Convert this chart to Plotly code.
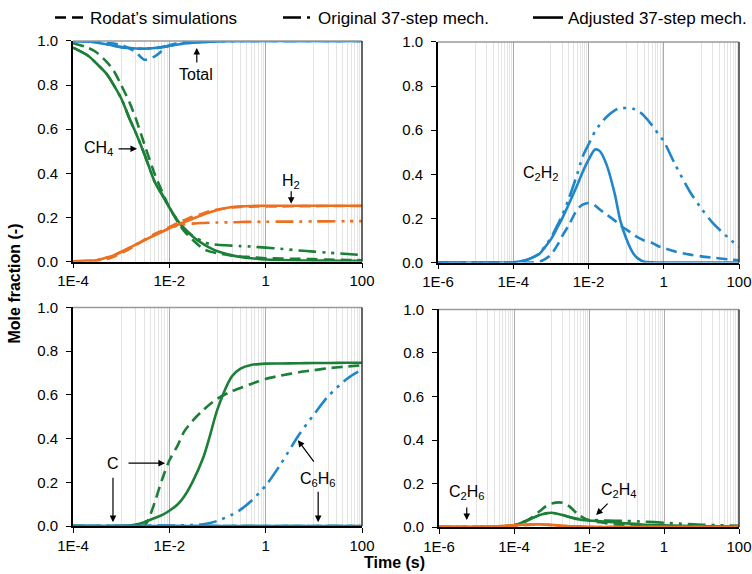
import math
import plotly.graph_objects as go

BLUE = "#1f86c9"
GREEN = "#1c7f38"
ORANGE = "#ec7021"
FONT = "Liberation Sans, Arial, sans-serif"

# ---------------- panel (a): CH4, H2 and total, t = 1E-4 .. 100 s
t_a = [1e-4, 2e-4, 3e-4, 5e-4, 7e-4, 1e-3, 1.5e-3, 2e-3, 3e-3, 5e-3, 7e-3, 1e-2,
       1.5e-2, 2e-2, 3e-2, 5e-2, 7e-2, 0.1, 0.2, 0.3, 0.5, 1, 2, 5, 10, 20, 50, 100]

ch4_rodat = [0.99, 0.97, 0.95, 0.905, 0.865, 0.80, 0.72, 0.65, 0.535, 0.395, 0.32, 0.245,
             0.18, 0.14, 0.10, 0.058, 0.045, 0.038, 0.027, 0.023, 0.02, 0.015, 0.014, 0.012,
             0.011, 0.009, 0.007, 0.006]
ch4_orig = [0.97, 0.935, 0.90, 0.85, 0.80, 0.74, 0.646, 0.585, 0.49, 0.36, 0.305, 0.245,
            0.185, 0.152, 0.118, 0.09, 0.08, 0.076, 0.072, 0.07, 0.068, 0.063, 0.058, 0.05,
            0.045, 0.04, 0.034, 0.029]
ch4_adj = [0.97, 0.935, 0.90, 0.85, 0.80, 0.74, 0.646, 0.585, 0.49, 0.36, 0.305, 0.245,
           0.185, 0.152, 0.115, 0.08, 0.062, 0.047, 0.028, 0.021, 0.015, 0.009, 0.007, 0.005,
           0.004, 0.004, 0.003, 0.003]

h2_rodat = [0.0, 0.002, 0.004, 0.012, 0.022, 0.038, 0.058, 0.074, 0.098, 0.125, 0.14, 0.156,
            0.175, 0.187, 0.203, 0.218, 0.229, 0.236, 0.245, 0.248, 0.249, 0.25, 0.25, 0.251,
            0.251, 0.252, 0.252, 0.252]
h2_orig = [0.001, 0.003, 0.005, 0.018, 0.028, 0.044, 0.063, 0.077, 0.096, 0.12, 0.135, 0.15,
           0.163, 0.168, 0.172, 0.175, 0.176, 0.177, 0.178, 0.179, 0.18, 0.18, 0.181, 0.181,
           0.182, 0.182, 0.183, 0.183]
h2_adj = [0.001, 0.003, 0.005, 0.018, 0.028, 0.044, 0.063, 0.077, 0.096, 0.12, 0.135, 0.151,
          0.167, 0.178, 0.193, 0.212, 0.223, 0.234, 0.247, 0.25, 0.252, 0.253, 0.253, 0.253,
          0.253, 0.253, 0.253, 0.253]

total_rodat = [1.0, 0.999, 0.997, 0.992, 0.988, 0.982, 0.965, 0.95, 0.915, 0.93, 0.955, 0.98,
               0.99, 0.995, 0.998, 1.0, 1.0, 1.0, 1.0, 1.0, 1.0, 1.0, 1.0, 1.0, 1.0, 1.0, 1.0, 1.0]
total_orig = [1.0, 0.998, 0.993, 0.985, 0.978, 0.972, 0.968, 0.966, 0.965, 0.968, 0.972, 0.978,
              0.984, 0.988, 0.992, 0.995, 0.997, 0.998, 0.999, 1.0, 1.0, 1.0, 1.0, 1.0, 1.0,
              1.0, 1.0, 1.0]
total_adj = [1.0, 0.998, 0.993, 0.985, 0.978, 0.972, 0.968, 0.966, 0.965, 0.968, 0.972, 0.978,
             0.984, 0.988, 0.992, 0.995, 0.997, 0.998, 0.999, 1.0, 1.0, 1.0, 1.0, 1.0, 1.0,
             1.0, 1.0, 1.0]

# ---------------- panel (b): C2H2, t = 1E-6 .. 100 s
t_b = [1e-6, 1e-5, 5e-5, 1e-4, 2e-4, 3e-4, 5e-4, 7e-4, 1e-3, 1.5e-3, 2e-3, 3e-3, 5e-3, 7e-3,
       1e-2, 1.5e-2, 2e-2, 3e-2, 5e-2, 7e-2, 0.1, 0.15, 0.2, 0.3, 0.5, 0.7, 1, 2, 5, 10, 20,
       50, 100]
c2h2_rodat = [0, 0, 0, 0, 0, 0, 0.004, 0.015, 0.035, 0.08, 0.12, 0.17, 0.24, 0.262, 0.27,
              0.258, 0.24, 0.218, 0.19, 0.168, 0.15, 0.13, 0.115, 0.1, 0.088, 0.075, 0.066,
              0.05, 0.036, 0.028, 0.022, 0.015, 0.01]
c2h2_orig = [0, 0, 0, 0.001, 0.009, 0.02, 0.042, 0.075, 0.112, 0.17, 0.215, 0.29, 0.40, 0.48,
             0.535, 0.595, 0.625, 0.66, 0.69, 0.70, 0.70, 0.697, 0.69, 0.665, 0.62, 0.585,
             0.55, 0.445, 0.32, 0.245, 0.18, 0.115, 0.07]
c2h2_adj = [0, 0, 0, 0.001, 0.009, 0.02, 0.04, 0.07, 0.105, 0.16, 0.2, 0.265, 0.35, 0.41,
            0.465, 0.512, 0.505, 0.445, 0.31, 0.19, 0.11, 0.045, 0.02, 0.004, 0.001, 0, 0, 0,
            0, 0, 0, 0, 0]

# ---------------- panel (c): C and C6H6, t = 1E-4 .. 100 s
t_c_rodat = [1e-4, 1e-3, 3e-3, 3.5e-3, 4e-3, 5e-3, 7e-3, 1e-2, 1.5e-2, 2e-2, 3e-2, 5e-2, 0.1,
             0.2, 0.5, 1, 2, 5, 10, 20, 50, 100]
c_rodat = [0, 0, 0.003, 0.02, 0.05, 0.11, 0.21, 0.3, 0.37, 0.43, 0.48, 0.53, 0.583, 0.617,
           0.65, 0.673, 0.688, 0.704, 0.713, 0.722, 0.73, 0.736]
c_orig = [0.0] * len(t_a)
c_adj = [0, 0, 0, 0, 0, 0.001, 0.003, 0.007, 0.018, 0.037, 0.05, 0.07, 0.1, 0.133, 0.2, 0.31,
         0.415, 0.535, 0.685, 0.72, 0.737, 0.743, 0.744, 0.745, 0.746, 0.746, 0.747, 0.747]
c6h6_rodat = [0.0] * len(t_a)
c6h6_orig = [0, 0, 0, 0, 0, 0, 0, 0, 0.001, 0.001, 0.002, 0.002, 0.003, 0.004, 0.005, 0.008,
             0.014, 0.024, 0.052, 0.075, 0.115, 0.185, 0.28, 0.42, 0.51, 0.595, 0.675, 0.716]
c6h6_adj = [0.0] * len(t_a)

# ---------------- panel (d): C2H4 and C2H6, t = 1E-6 .. 100 s
t_d = [1e-6, 1e-5, 3e-5, 1e-4, 2e-4, 3e-4, 5e-4, 7e-4, 1e-3, 2e-3, 3e-3, 5e-3, 1e-2, 2e-2,
       5e-2, 0.1, 0.3, 1, 3, 10, 100]
c2h4_rodat = [0, 0, 0.001, 0.008, 0.025, 0.045, 0.075, 0.095, 0.108, 0.112, 0.095, 0.06, 0.03,
              0.022, 0.012, 0.007, 0.004, 0.003, 0.002, 0.002, 0.001]
c2h4_orig = [0, 0, 0.001, 0.008, 0.027, 0.04, 0.056, 0.063, 0.066, 0.055, 0.046, 0.038, 0.034,
             0.031, 0.029, 0.028, 0.025, 0.02, 0.015, 0.011, 0.006]
c2h4_adj = [0, 0, 0.001, 0.008, 0.027, 0.04, 0.056, 0.063, 0.066, 0.055, 0.046, 0.036, 0.03,
            0.027, 0.021, 0.017, 0.011, 0.008, 0.006, 0.004, 0.003]
c2h6_rodat = [0, 0.001, 0.002, 0.006, 0.009, 0.011, 0.012, 0.011, 0.009, 0.005, 0.003, 0.002,
              0.001, 0, 0, 0, 0, 0, 0, 0, 0]
c2h6_orig = [0, 0.001, 0.003, 0.008, 0.011, 0.013, 0.013, 0.012, 0.01, 0.006, 0.004, 0.002,
             0.001, 0, 0, 0, 0, 0, 0, 0, 0]
c2h6_adj = [0, 0.001, 0.003, 0.008, 0.011, 0.013, 0.013, 0.012, 0.01, 0.006, 0.004, 0.002,
            0.001, 0, 0, 0, 0, 0, 0, 0, 0]

LEGEND_NAMES = ["Rodat\u2019s simulations", "Original 37-step mech.", "Adjusted 37-step mech."]
DASHES = ["11px,6px", "18px,6px,3px,6px,3px,6px", "solid"]
LW = 2.6

W, H = 752, 574

fig = go.Figure()


def add_species(series, color, xa, ya):
    """series: (rodat, original, adjusted) drawn dashed, dash-dot-dot, solid."""
    for (t, vals), dash in zip(series, DASHES):
        fig.add_trace(go.Scatter(
            x=t, y=vals, mode="lines", xaxis=xa, yaxis=ya, showlegend=False,
            line=dict(color=color, width=LW, dash=dash, shape="spline", smoothing=0.8),
            hoverinfo="skip"))


# panel (a)
add_species([(t_a, ch4_rodat), (t_a, ch4_orig), (t_a, ch4_adj)], GREEN, "x", "y")
add_species([(t_a, h2_rodat), (t_a, h2_orig), (t_a, h2_adj)], ORANGE, "x", "y")
add_species([(t_a, total_rodat), (t_a, total_orig), (t_a, total_adj)], BLUE, "x", "y")
# panel (b)
add_species([(t_b, c2h2_rodat), (t_b, c2h2_orig), (t_b, c2h2_adj)], BLUE, "x2", "y2")
# panel (c)
add_species([(t_c_rodat, c_rodat), (t_a, c_orig), (t_a, c_adj)], GREEN, "x3", "y3")
add_species([(t_a, c6h6_rodat), (t_a, c6h6_orig), (t_a, c6h6_adj)], BLUE, "x3", "y3")
# panel (d)
add_species([(t_d, c2h4_rodat), (t_d, c2h4_orig), (t_d, c2h4_adj)], GREEN, "x4", "y4")
add_species([(t_d, c2h6_rodat), (t_d, c2h6_orig), (t_d, c2h6_adj)], ORANGE, "x4", "y4")

# legend-only entries (black line styles), one legend box per entry
LEGEND_IDS = ["legend", "legend2", "legend3"]
LEGEND_X = [50, 278, 528]
for name, dash, lid in zip(LEGEND_NAMES, DASHES, LEGEND_IDS):
    fig.add_trace(go.Scatter(x=[None], y=[None], mode="lines", name=name, legend=lid,
                             line=dict(color="black", width=LW, dash=dash)))


def dom_x(a, b):
    return [a / W, b / W]


def dom_y(top, bottom):
    return [1 - bottom / H, 1 - top / H]


def xaxis_cfg(lo_exp, hi_exp, domain, anchor):
    majors = list(range(lo_exp, hi_exp + 1, 2))
    labels = {-6: "1E-6", -4: "1E-4", -2: "1E-2", 0: "1", 2: "100"}
    minor_vals = [k * 10.0 ** (m + 1) for m in majors[:-1] for k in range(1, 10)]
    return dict(
        type="log", range=[lo_exp, hi_exp], domain=domain, anchor=anchor, automargin=False,
        tickvals=[10.0 ** m for m in majors], ticktext=[labels[m] for m in majors],
        ticklabeloverflow="allow",
        showgrid=True, gridcolor="#ababab", gridwidth=1,
        minor=dict(tickvals=minor_vals, showgrid=True, gridcolor="#e4e4e4", gridwidth=1,
                   ticks=""),
        showline=True, linecolor="black", linewidth=1.6,
        ticks="outside", ticklen=5, tickwidth=1, tickcolor="black",
        tickfont=dict(size=15, color="black", family=FONT), zeroline=False,
    )


def yaxis_cfg(domain, anchor):
    return dict(
        range=[0, 1], domain=domain, anchor=anchor, automargin=False,
        tickvals=[0, 0.2, 0.4, 0.6, 0.8, 1.0], tickformat=".1f",
        ticklabeloverflow="allow", ticklabelstandoff=5,
        showgrid=False, zeroline=False,
        showline=True, linecolor="black", linewidth=1.6,
        ticks="outside", ticklen=5, tickwidth=1, tickcolor="black",
        tickfont=dict(size=15, color="black", family=FONT),
    )


fig.update_layout(
    xaxis=xaxis_cfg(-4, 2, dom_x(73, 362), "y"),
    yaxis=yaxis_cfg(dom_y(40, 261), "x"),
    xaxis2=xaxis_cfg(-6, 2, dom_x(438, 739), "y2"),
    yaxis2=yaxis_cfg(dom_y(41, 262), "x2"),
    xaxis3=xaxis_cfg(-4, 2, dom_x(73, 362), "y3"),
    yaxis3=yaxis_cfg(dom_y(307, 526), "x3"),
    xaxis4=xaxis_cfg(-6, 2, dom_x(439, 739), "y4"),
    yaxis4=yaxis_cfg(dom_y(309, 527), "x4"),
)

# plot-area frame: grey top edge, dark right edge
shapes = []
for xs, ys in [("x", "y"), ("x2", "y2"), ("x3", "y3"), ("x4", "y4")]:
    shapes.append(dict(type="line", xref=f"{xs} domain", yref=f"{ys} domain",
                       x0=0, x1=1, y0=1, y1=1, line=dict(color="#9a9a9a", width=1.5)))
    shapes.append(dict(type="line", xref=f"{xs} domain", yref=f"{ys} domain",
                       x0=1, x1=1, y0=0, y1=1, line=dict(color="#333333", width=1.5)))

annots = []


def label(text, t, v, xa, ya):
    annots.append(dict(text=text, x=math.log10(t), y=v, xref=xa, yref=ya, showarrow=False,
                       xanchor="center", yanchor="middle",
                       font=dict(size=16, color="black", family=FONT)))


def arrow(t, v, ax, ay, xa, ya):
    annots.append(dict(text="", x=math.log10(t), y=v, xref=xa, yref=ya, showarrow=True,
                       ax=ax, ay=ay, arrowhead=2, arrowsize=1.1, arrowwidth=1.2,
                       arrowcolor="black", standoff=0))


# panel (a)
label("Total", 10 ** -1.45, 0.846, "x", "y")
arrow(10 ** -1.43, 0.968, 0, 16, "x", "y")
label("CH<sub>4</sub>", 10 ** -3.48, 0.511, "x", "y")
arrow(10 ** -2.67, 0.511, -20, 0, "x", "y")
label("H<sub>2</sub>", 10 ** 0.53, 0.365, "x", "y")
arrow(10 ** 0.53, 0.262, 0, -14, "x", "y")
# panel (b)
label("C<sub>2</sub>H<sub>2</sub>", 10 ** -3.26, 0.403, "x2", "y2")
# panel (c)
label("C", 10 ** -3.17, 0.288, "x3", "y3")
arrow(10 ** -2.09, 0.288, -38, 0, "x3", "y3")
arrow(10 ** -3.17, 0.018, 0, -46, "x3", "y3")
label("C<sub>6</sub>H<sub>6</sub>", 10 ** 1.09, 0.212, "x3", "y3")
arrow(10 ** 0.67, 0.393, 17, 23, "x3", "y3")
arrow(10 ** 1.09, 0.018, 0, -32, "x3", "y3")
# panel (d)
label("C<sub>2</sub>H<sub>6</sub>", 10 ** -5.26, 0.16, "x4", "y4")
arrow(10 ** -5.26, 0.032, 0, -14, "x4", "y4")
label("C<sub>2</sub>H<sub>4</sub>", 10 ** -1.21, 0.17, "x4", "y4")
arrow(10 ** -1.81, 0.055, 13, -13, "x4", "y4")

# axis titles shared by the four panels
annots.append(dict(text="<b>Mole fraction (-)</b>", x=15 / W, y=1 - 283 / H, xref="paper",
                   yref="paper", showarrow=False, textangle=-90, xanchor="center",
                   yanchor="middle", font=dict(size=16, color="black", family=FONT)))
annots.append(dict(text="<b>Time (s)</b>", x=394 / W, y=1 - 562 / H, xref="paper",
                   yref="paper", showarrow=False, xanchor="center", yanchor="middle",
                   font=dict(size=16, color="black", family=FONT)))

legend_style = dict(orientation="h", yanchor="middle", y=1 - 17 / H, xanchor="left",
                    font=dict(size=17, color="black", family=FONT),
                    bgcolor="rgba(0,0,0,0)", borderwidth=0)
legend_layout = {lid: dict(legend_style, x=lx / W) for lid, lx in zip(LEGEND_IDS, LEGEND_X)}

fig.update_layout(
    width=W, height=H, margin=dict(l=0, r=0, t=0, b=0),
    paper_bgcolor="white", plot_bgcolor="white",
    font=dict(family=FONT, color="black"),
    shapes=shapes, annotations=annots,
    **legend_layout,
)

fig.write_html("out.html")
